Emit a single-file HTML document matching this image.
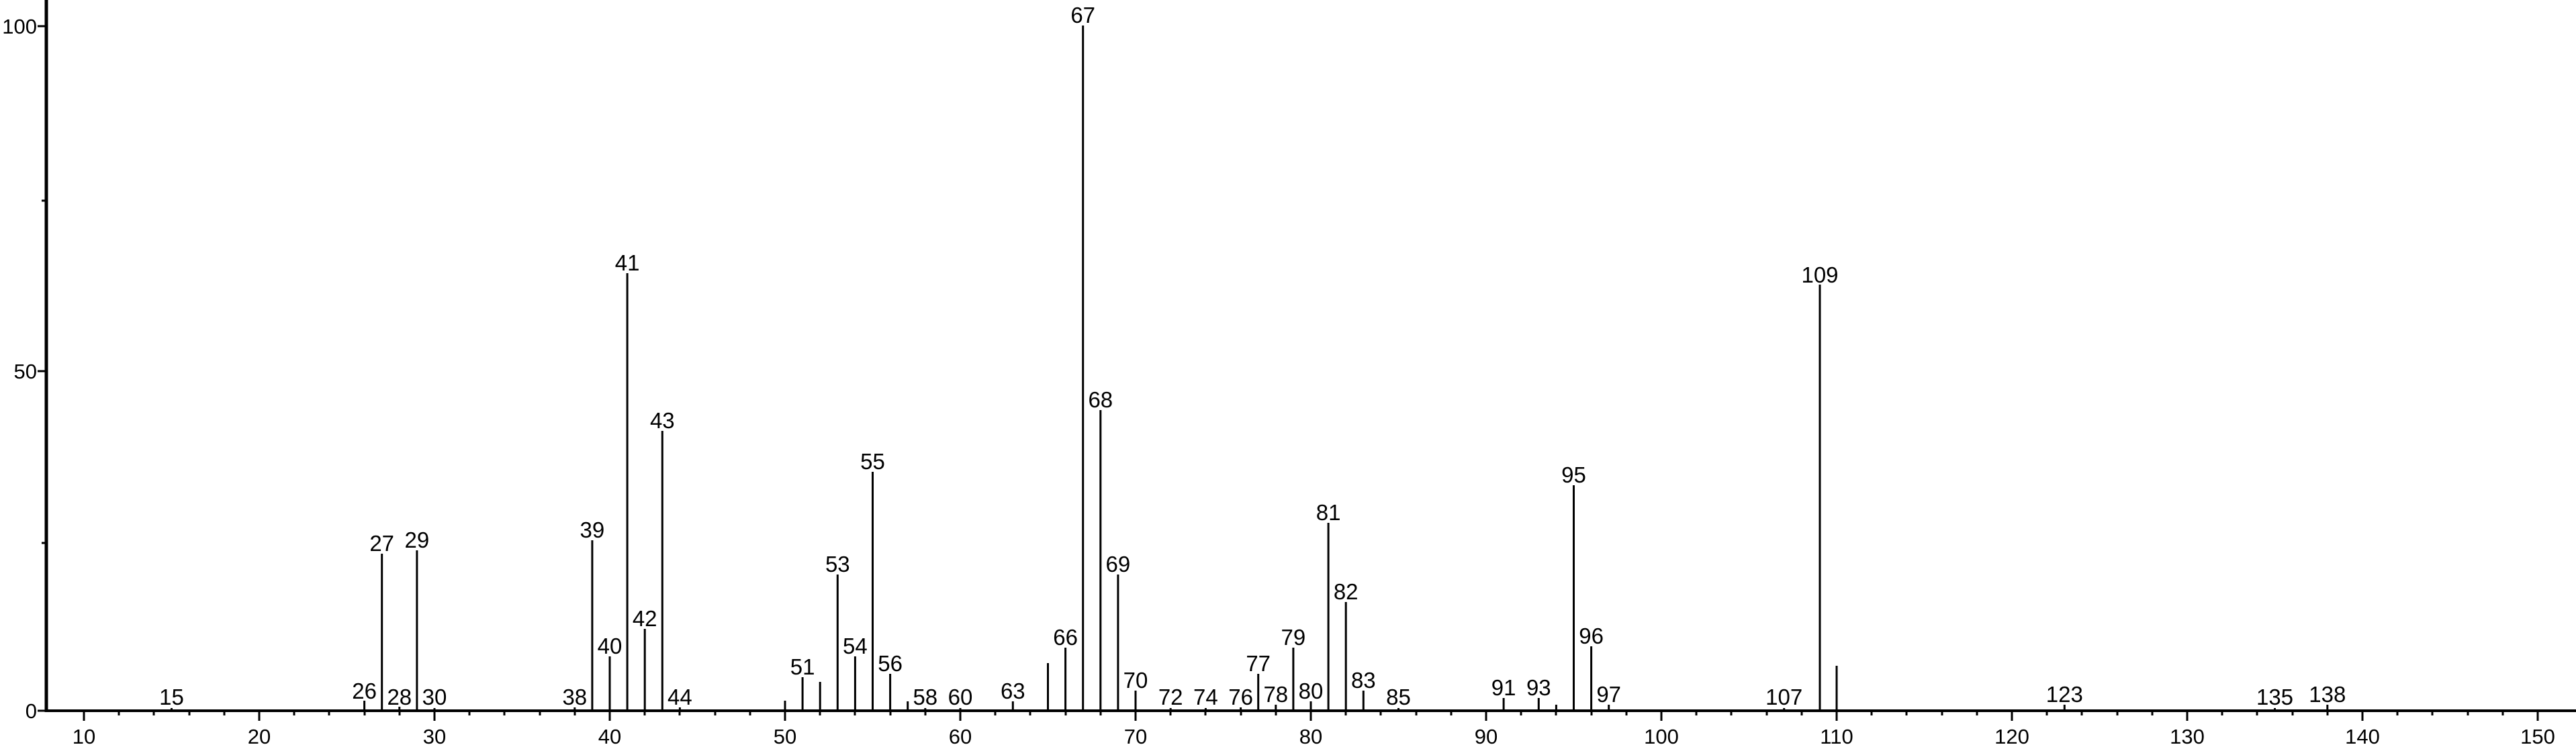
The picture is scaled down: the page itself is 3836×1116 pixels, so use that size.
<!DOCTYPE html>
<html><head><meta charset="utf-8"><style>html,body{margin:0;padding:0;background:#fff}svg{display:block}</style></head>
<body>
<svg width="3836" height="1116" viewBox="0 0 3836 1116" xmlns="http://www.w3.org/2000/svg" font-family="Liberation Sans, Arial, sans-serif" fill="#000">
<rect width="3836" height="1116" fill="#fff"/>
<line x1="69" y1="0" x2="69" y2="1061" stroke="#000" stroke-width="5"/>
<line x1="67" y1="1059" x2="3836" y2="1059" stroke="#000" stroke-width="4"/>
<g stroke="#000" stroke-width="3">
<line x1="56" y1="39" x2="69" y2="39"/><line x1="62" y1="299" x2="69" y2="299"/>
<line x1="56" y1="553" x2="69" y2="553"/><line x1="62" y1="809" x2="69" y2="809"/>
<line x1="56" y1="1059" x2="69" y2="1059"/>
</g>
<g font-size="31" text-anchor="end">
<text x="55" y="50">100</text><text x="55" y="564">50</text><text x="55" y="1070">0</text>
</g>
<g stroke="#000" stroke-width="3">
<line x1="125" y1="1059" x2="125" y2="1074"/><line x1="386" y1="1059" x2="386" y2="1074"/><line x1="647" y1="1059" x2="647" y2="1074"/><line x1="908" y1="1059" x2="908" y2="1074"/><line x1="1169" y1="1059" x2="1169" y2="1074"/><line x1="1430" y1="1059" x2="1430" y2="1074"/><line x1="1691" y1="1059" x2="1691" y2="1074"/><line x1="1952" y1="1059" x2="1952" y2="1074"/><line x1="2213" y1="1059" x2="2213" y2="1074"/><line x1="2474" y1="1059" x2="2474" y2="1074"/><line x1="2735" y1="1059" x2="2735" y2="1074"/><line x1="2996" y1="1059" x2="2996" y2="1074"/><line x1="3257" y1="1059" x2="3257" y2="1074"/><line x1="3518" y1="1059" x2="3518" y2="1074"/><line x1="3779" y1="1059" x2="3779" y2="1074"/>
<line x1="177" y1="1059" x2="177" y2="1066"/><line x1="229" y1="1059" x2="229" y2="1066"/><line x1="282" y1="1059" x2="282" y2="1066"/><line x1="334" y1="1059" x2="334" y2="1066"/>
<line x1="438" y1="1059" x2="438" y2="1066"/><line x1="490" y1="1059" x2="490" y2="1066"/><line x1="543" y1="1059" x2="543" y2="1066"/><line x1="595" y1="1059" x2="595" y2="1066"/>
<line x1="699" y1="1059" x2="699" y2="1066"/><line x1="751" y1="1059" x2="751" y2="1066"/><line x1="804" y1="1059" x2="804" y2="1066"/><line x1="856" y1="1059" x2="856" y2="1066"/>
<line x1="960" y1="1059" x2="960" y2="1066"/><line x1="1012" y1="1059" x2="1012" y2="1066"/><line x1="1065" y1="1059" x2="1065" y2="1066"/><line x1="1117" y1="1059" x2="1117" y2="1066"/>
<line x1="1221" y1="1059" x2="1221" y2="1066"/><line x1="1273" y1="1059" x2="1273" y2="1066"/><line x1="1326" y1="1059" x2="1326" y2="1066"/><line x1="1378" y1="1059" x2="1378" y2="1066"/>
<line x1="1482" y1="1059" x2="1482" y2="1066"/><line x1="1534" y1="1059" x2="1534" y2="1066"/><line x1="1587" y1="1059" x2="1587" y2="1066"/><line x1="1639" y1="1059" x2="1639" y2="1066"/>
<line x1="1743" y1="1059" x2="1743" y2="1066"/><line x1="1795" y1="1059" x2="1795" y2="1066"/><line x1="1848" y1="1059" x2="1848" y2="1066"/><line x1="1900" y1="1059" x2="1900" y2="1066"/>
<line x1="2004" y1="1059" x2="2004" y2="1066"/><line x1="2056" y1="1059" x2="2056" y2="1066"/><line x1="2109" y1="1059" x2="2109" y2="1066"/><line x1="2161" y1="1059" x2="2161" y2="1066"/>
<line x1="2265" y1="1059" x2="2265" y2="1066"/><line x1="2317" y1="1059" x2="2317" y2="1066"/><line x1="2370" y1="1059" x2="2370" y2="1066"/><line x1="2422" y1="1059" x2="2422" y2="1066"/>
<line x1="2526" y1="1059" x2="2526" y2="1066"/><line x1="2578" y1="1059" x2="2578" y2="1066"/><line x1="2631" y1="1059" x2="2631" y2="1066"/><line x1="2683" y1="1059" x2="2683" y2="1066"/>
<line x1="2787" y1="1059" x2="2787" y2="1066"/><line x1="2839" y1="1059" x2="2839" y2="1066"/><line x1="2892" y1="1059" x2="2892" y2="1066"/><line x1="2944" y1="1059" x2="2944" y2="1066"/>
<line x1="3048" y1="1059" x2="3048" y2="1066"/><line x1="3100" y1="1059" x2="3100" y2="1066"/><line x1="3153" y1="1059" x2="3153" y2="1066"/><line x1="3205" y1="1059" x2="3205" y2="1066"/>
<line x1="3309" y1="1059" x2="3309" y2="1066"/><line x1="3361" y1="1059" x2="3361" y2="1066"/><line x1="3414" y1="1059" x2="3414" y2="1066"/><line x1="3466" y1="1059" x2="3466" y2="1066"/>
<line x1="3570" y1="1059" x2="3570" y2="1066"/><line x1="3622" y1="1059" x2="3622" y2="1066"/><line x1="3675" y1="1059" x2="3675" y2="1066"/><line x1="3727" y1="1059" x2="3727" y2="1066"/>
</g>
<g font-size="31" text-anchor="middle">
<text x="125" y="1108">10</text><text x="386" y="1108">20</text><text x="647" y="1108">30</text><text x="908" y="1108">40</text><text x="1169" y="1108">50</text><text x="1430" y="1108">60</text><text x="1691" y="1108">70</text><text x="1952" y="1108">80</text><text x="2213" y="1108">90</text><text x="2474" y="1108">100</text><text x="2735" y="1108">110</text><text x="2996" y="1108">120</text><text x="3257" y="1108">130</text><text x="3518" y="1108">140</text><text x="3779" y="1108">150</text>
</g>
<g stroke="#000" stroke-width="3">
<line x1="255.5" y1="1059" x2="255.5" y2="1055"/>
<line x1="542.6" y1="1059" x2="542.6" y2="1044"/>
<line x1="568.7" y1="1059" x2="568.7" y2="825"/>
<line x1="594.8" y1="1059" x2="594.8" y2="1053"/>
<line x1="620.9" y1="1059" x2="620.9" y2="820"/>
<line x1="647" y1="1059" x2="647" y2="1055"/>
<line x1="855.8" y1="1059" x2="855.8" y2="1054"/>
<line x1="881.9" y1="1059" x2="881.9" y2="805"/>
<line x1="908" y1="1059" x2="908" y2="978"/>
<line x1="934.1" y1="1059" x2="934.1" y2="407"/>
<line x1="960.2" y1="1059" x2="960.2" y2="937"/>
<line x1="986.3" y1="1059" x2="986.3" y2="642"/>
<line x1="1012.4" y1="1059" x2="1012.4" y2="1054"/>
<line x1="1169" y1="1059" x2="1169" y2="1044"/>
<line x1="1195.1" y1="1059" x2="1195.1" y2="1009"/>
<line x1="1221.2" y1="1059" x2="1221.2" y2="1016"/>
<line x1="1247.3" y1="1059" x2="1247.3" y2="856"/>
<line x1="1273.4" y1="1059" x2="1273.4" y2="978"/>
<line x1="1299.5" y1="1059" x2="1299.5" y2="703"/>
<line x1="1325.6" y1="1059" x2="1325.6" y2="1004"/>
<line x1="1351.7" y1="1059" x2="1351.7" y2="1045"/>
<line x1="1377.8" y1="1059" x2="1377.8" y2="1055"/>
<line x1="1430" y1="1059" x2="1430" y2="1055"/>
<line x1="1508.3" y1="1059" x2="1508.3" y2="1045"/>
<line x1="1560.5" y1="1059" x2="1560.5" y2="988"/>
<line x1="1586.6" y1="1059" x2="1586.6" y2="965"/>
<line x1="1612.7" y1="1059" x2="1612.7" y2="38"/>
<line x1="1638.8" y1="1059" x2="1638.8" y2="611"/>
<line x1="1664.9" y1="1059" x2="1664.9" y2="856"/>
<line x1="1691" y1="1059" x2="1691" y2="1029"/>
<line x1="1743.2" y1="1059" x2="1743.2" y2="1055"/>
<line x1="1795.4" y1="1059" x2="1795.4" y2="1055"/>
<line x1="1847.6" y1="1059" x2="1847.6" y2="1054"/>
<line x1="1873.7" y1="1059" x2="1873.7" y2="1004"/>
<line x1="1899.8" y1="1059" x2="1899.8" y2="1050"/>
<line x1="1925.9" y1="1059" x2="1925.9" y2="965"/>
<line x1="1952" y1="1059" x2="1952" y2="1045"/>
<line x1="1978.1" y1="1059" x2="1978.1" y2="779"/>
<line x1="2004.2" y1="1059" x2="2004.2" y2="897"/>
<line x1="2030.3" y1="1059" x2="2030.3" y2="1029"/>
<line x1="2082.5" y1="1059" x2="2082.5" y2="1055"/>
<line x1="2239.1" y1="1059" x2="2239.1" y2="1040"/>
<line x1="2291.3" y1="1059" x2="2291.3" y2="1040"/>
<line x1="2317.4" y1="1059" x2="2317.4" y2="1050"/>
<line x1="2343.5" y1="1059" x2="2343.5" y2="723"/>
<line x1="2369.6" y1="1059" x2="2369.6" y2="963"/>
<line x1="2395.7" y1="1059" x2="2395.7" y2="1050"/>
<line x1="2656.7" y1="1059" x2="2656.7" y2="1055"/>
<line x1="2710" y1="1059" x2="2710" y2="424"/>
<line x1="2735" y1="1059" x2="2735" y2="992"/>
<line x1="3074.3" y1="1059" x2="3074.3" y2="1050"/>
<line x1="3387.5" y1="1059" x2="3387.5" y2="1055"/>
<line x1="3465.8" y1="1059" x2="3465.8" y2="1050"/>
</g>
<g font-size="33" text-anchor="middle">
<text x="255.5" y="1050">15</text>
<text x="542.6" y="1041">26</text>
<text x="568.7" y="821">27</text>
<text x="594.8" y="1050">28</text>
<text x="620.9" y="816">29</text>
<text x="647" y="1050">30</text>
<text x="855.8" y="1050">38</text>
<text x="881.9" y="801">39</text>
<text x="908" y="974">40</text>
<text x="934.1" y="403">41</text>
<text x="960.2" y="933">42</text>
<text x="986.3" y="638">43</text>
<text x="1012.4" y="1050">44</text>
<text x="1195.1" y="1005">51</text>
<text x="1247.3" y="852">53</text>
<text x="1273.4" y="974">54</text>
<text x="1299.5" y="699">55</text>
<text x="1325.6" y="1000">56</text>
<text x="1377.8" y="1050">58</text>
<text x="1430" y="1050">60</text>
<text x="1508.3" y="1041">63</text>
<text x="1586.6" y="961">66</text>
<text x="1612.7" y="34">67</text>
<text x="1638.8" y="607">68</text>
<text x="1664.9" y="852">69</text>
<text x="1691" y="1025">70</text>
<text x="1743.2" y="1050">72</text>
<text x="1795.4" y="1050">74</text>
<text x="1847.6" y="1050">76</text>
<text x="1873.7" y="1000">77</text>
<text x="1899.8" y="1046">78</text>
<text x="1925.9" y="961">79</text>
<text x="1952" y="1041">80</text>
<text x="1978.1" y="775">81</text>
<text x="2004.2" y="893">82</text>
<text x="2030.3" y="1025">83</text>
<text x="2082.5" y="1050">85</text>
<text x="2239.1" y="1036">91</text>
<text x="2291.3" y="1036">93</text>
<text x="2343.5" y="719">95</text>
<text x="2369.6" y="959">96</text>
<text x="2395.7" y="1046">97</text>
<text x="2656.7" y="1050">107</text>
<text x="2710" y="421">109</text>
<text x="3074.3" y="1046">123</text>
<text x="3387.5" y="1050">135</text>
<text x="3465.8" y="1046">138</text>
</g>
</svg>
</body></html>
